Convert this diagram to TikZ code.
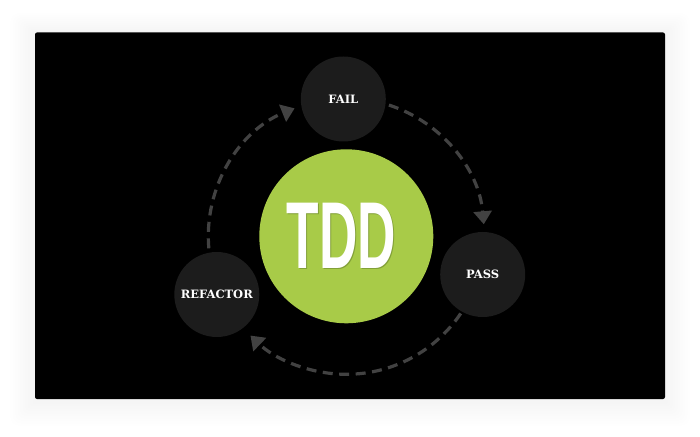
\documentclass[tikz,border=0pt]{standalone}
\usepackage{fontspec}
\newfontfamily\labelfont{DejaVu Serif}
\newfontfamily\tddfont{Liberation Sans}
\usetikzlibrary{arrows.meta,positioning}
\definecolor{tddgreen}{RGB}{168,203,72}
\definecolor{tddshade}{RGB}{130,160,55}
\definecolor{stepgray}{RGB}{28,28,28}
\definecolor{arcgray}{RGB}{66,66,66}
\tikzset{
  stepc/.style={circle, fill=stepgray, minimum size=85pt, inner sep=0pt,
    text=white, font=\labelfont\bfseries\fontsize{11.5}{11.5}\selectfont},
  core/.style={circle, fill=tddgreen, minimum size=174pt, inner sep=0pt},
  bigtxt/.style={inner sep=0pt, font=\tddfont\bfseries},
  cyc/.style={draw=arcgray, line width=3.2pt, dash pattern=on 10pt off 6.5pt,
    -{Triangle[length=13pt,width=18pt]}},
}

\begin{document}
\begin{tikzpicture}[x=1pt,y=1pt]
  \useasboundingbox (0,0) rectangle (700,436);

  % soft shadow round the slide
  \foreach \s in {1,...,10}
    \fill[black, opacity=0.0025, rounded corners=\s pt]
      (35-\s*2.5,35-\s*2.5) rectangle (665+\s*2.5,403+\s*2);
  \fill[black, rounded corners=2pt] (35,37) rectangle (665,403.5);

  \node[core] (tdd) at (346.3,199.7) {};
  \node[bigtxt, text=tddshade] (tddsh) at ([shift={(-4pt,-1pt)}]tdd.center)
    {\scalebox{0.56}[1]{\fontsize{95}{95}\selectfont TDD}};
  \node[bigtxt, text=white] (tddlbl) at ([xshift=-5pt]tdd.center)
    {\scalebox{0.56}[1]{\fontsize{95}{95}\selectfont TDD}};

  \node[stepc] (fail)     at (343.3,337)   {FAIL};
  \node[stepc] (pass)     at (482.7,161.5) {PASS};
  \node[stepc] (refactor) at (216.8,141.5) {REFACTOR};

  \draw[cyc] ([shift={(72:138pt)}]tdd.center)
    arc[start angle=72, end angle=5, radius=138pt];
  \draw[cyc] ([shift={(-34:138pt)}]tdd.center)
    arc[start angle=-34, end angle=-134, radius=138pt];
  \draw[cyc] ([shift={(185:138pt)}]tdd.center)
    arc[start angle=185, end angle=112, radius=138pt];
\end{tikzpicture}
\end{document}
